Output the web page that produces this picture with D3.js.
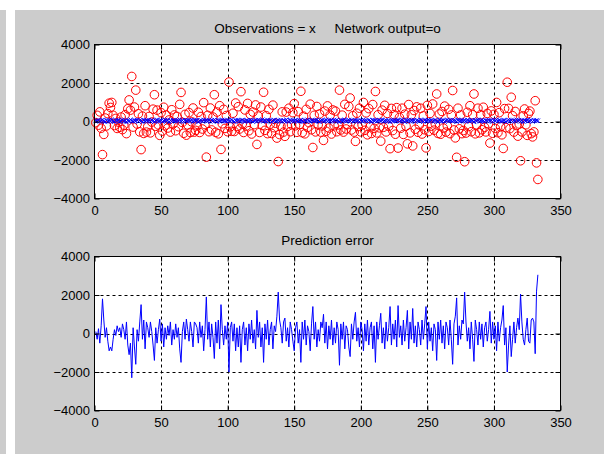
<!DOCTYPE html>
<html><head><meta charset="utf-8">
<script src="https://cdn.jsdelivr.net/npm/d3@7"></script>
<style>html,body{margin:0;padding:0;background:#fff;} svg{display:block;font-family:"Liberation Sans",Arial,sans-serif;}</style>
</head><body><svg id="c" width="604" height="454"></svg>
<script>
const xTicks=[0,50,100,150,200,250,300,350];
const yTicks=[-4000,-2000,0,2000,4000];
const gridX=[50,100,150,200,250,300];
const gridY=[-2000,0,2000];
const titles=["Observations = x     Network output=o","Prediction error"];

const observations=[
40,20,60,0,50,80,30,-20,70,10,
50,30,90,20,-10,60,40,70,0,30,
80,10,50,-30,60,20,90,40,10,50,
30,70,0,60,40,-20,80,20,50,30,
60,10,70,40,-10,50,90,20,30,60,
0,40,80,30,60,-20,50,10,70,40,
20,60,30,90,10,50,-10,70,40,20,
60,30,80,0,50,40,70,-20,30,60,
10,80,40,50,20,70,0,60,30,90,
40,-10,60,20,50,80,30,40,10,70,
50,20,90,30,-20,60,40,70,10,50,
80,30,0,60,40,20,70,50,-10,40,
60,10,80,30,50,90,20,40,0,70,
30,60,-20,50,80,10,40,70,20,60,
0,50,30,90,40,-10,70,20,60,30,
80,40,10,50,70,20,-20,60,30,90,
40,0,70,50,20,60,80,30,-10,50,
70,20,40,90,10,60,30,50,0,80,
40,70,20,-20,60,30,50,90,10,40,
80,20,60,0,50,70,30,40,-10,60,
20,90,40,50,10,70,30,-20,80,40,
60,10,50,70,30,90,0,40,60,20,
50,-10,80,30,60,40,20,70,10,50,
90,30,-20,60,40,80,10,50,30,70,
0,60,40,20,90,50,-10,70,30,40,
80,20,60,10,50,70,30,-20,90,40,
20,60,0,50,80,30,70,40,10,60,
50,-10,90,20,40,70,30,60,0,80,
40,20,70,50,-20,60,30,90,10,50,
70,40,0,60,20,80,30,50,-10,70,
40,90,20,60,30,10,50,70,-20,40,
80,30,60,0,50,20,90,40,70,10,
60,-10,50,30,80,20,40,70,0,60,
30,50,40];

const predictionError=[
100,-300,250,-500,400,1800,700,-200,300,-400,
-900,-700,-900,-300,200,-100,400,100,300,-200,
500,200,-300,600,-600,-1100,-500,-2300,300,-700,
-1600,200,-400,600,1500,-300,700,-800,600,300,
-200,600,100,-600,-1400,300,-500,200,750,-400,
500,-700,300,-300,400,-100,600,-600,200,-300,
500,-200,300,-800,-1500,100,600,-300,750,200,
-400,600,100,-700,600,500,300,-500,600,-200,
400,-900,200,1900,-300,600,-700,500,-200,-1300,
600,-500,700,-800,1500,200,-600,400,-300,600,
-2000,300,600,-400,500,-900,300,-700,400,-1500,
200,600,-600,300,-900,500,-300,700,-500,200,
-800,1200,-200,600,-700,300,-1500,500,-300,700,
-600,200,600,-800,400,100,900,2150,700,300,
-500,600,800,-400,300,-700,600,200,-400,-900,
300,600,-500,200,-1500,600,-300,700,-600,400,
100,-900,500,1400,-300,600,-700,200,-400,600,
300,1000,-500,600,-800,400,-300,700,-600,300,
-500,600,200,-1650,500,-300,600,-800,400,200,
-700,-1200,500,-300,600,1100,-400,300,-700,600,
200,-900,500,-400,700,-600,300,600,-800,400,
-1500,600,-300,400,1050,-500,300,-800,600,-400,
300,1400,-600,500,-300,700,-700,1450,-200,400,
-600,700,-400,300,1200,-800,600,-300,1300,-500,
400,-700,600,200,-600,700,-300,500,1400,-800,
600,-400,300,-900,500,200,-1400,600,-300,700,
-500,400,-800,600,300,-600,700,-300,-1600,500,
900,1850,-600,400,-300,700,500,2150,600,-400,
300,-800,600,-300,-1450,700,200,-600,600,-300,
500,-700,300,600,-400,200,1150,-500,600,-300,
400,-900,600,-400,300,700,1450,-600,300,-2000,
-600,400,-1200,-300,600,-500,300,800,200,2050,
600,-300,-600,200,800,-400,-500,700,800,600,
-1050,2200,3050];

// network output derived from the definition: error = observation - output
const networkOutput=observations.map((o,i)=>o-predictionError[i]);
const idx=observations.map((d,i)=>i+1);

const svg=d3.select("#c");
svg.append("rect").attr("x",15).attr("y",10).attr("width",589).attr("height",444).attr("fill","#cccccc");
svg.append("rect").attr("x",0).attr("y",10).attr("width",6).attr("height",444).attr("fill","#cccccc");

const x=d3.scaleLinear().domain([0,350]).range([94.5,560.5]);
const panels=[{top:44.5,bottom:198.5},{top:256.5,bottom:410.5}];

panels.forEach((p,k)=>{
  const y=d3.scaleLinear().domain([-4000,4000]).range([p.bottom,p.top]);
  p.y=y;
  const g=svg.append("g");
  g.append("rect").attr("x",x(0)).attr("y",p.top).attr("width",x(350)-x(0)).attr("height",p.bottom-p.top).attr("fill","#fff");
  g.selectAll(".gx").data(gridX).enter().append("line")
    .attr("x1",d=>Math.round(x(d))+0.5).attr("x2",d=>Math.round(x(d))+0.5)
    .attr("y1",p.top).attr("y2",p.bottom)
    .attr("stroke","#000").attr("stroke-dasharray","3,3").attr("stroke-width",1);
  g.selectAll(".gy").data(gridY).enter().append("line")
    .attr("y1",d=>Math.round(y(d))+0.5).attr("y2",d=>Math.round(y(d))+0.5)
    .attr("x1",x(0)).attr("x2",x(350))
    .attr("stroke","#000").attr("stroke-dasharray","3,3").attr("stroke-width",1);
  p.g=g;
});

const p0=panels[0];
p0.g.append("g").selectAll("circle").data(networkOutput).enter().append("circle")
  .attr("cx",(d,i)=>x(idx[i])).attr("cy",d=>p0.y(d)).attr("r",4.3)
  .attr("fill","none").attr("stroke","#ff0000").attr("stroke-width",1);
p0.g.append("g").selectAll("path").data(observations).enter().append("path")
  .attr("transform",(d,i)=>`translate(${x(idx[i])},${p0.y(d)})`)
  .attr("d","M-2.2,-2.2L2.2,2.2M-2.2,2.2L2.2,-2.2")
  .attr("stroke","#0000ff").attr("stroke-width",0.9).attr("fill","none");

const p1=panels[1];
p1.g.append("path").datum(predictionError)
  .attr("d",d3.line().x((d,i)=>x(idx[i])).y(d=>p1.y(d)))
  .attr("fill","none").attr("stroke","#0000ff").attr("stroke-width",1);

const fmt=d3.format("d");
panels.forEach((p,k)=>{
  const g=svg.append("g");
  const ax=g.append("g").attr("transform",`translate(0,${p.bottom})`)
    .call(d3.axisBottom(x).tickValues(xTicks).tickSize(-5).tickPadding(7).tickFormat(fmt));
  const at=g.append("g").attr("transform",`translate(0,${p.top})`)
    .call(d3.axisTop(x).tickValues(xTicks).tickSize(-5).tickFormat(""));
  const ay=g.append("g").attr("transform",`translate(${x(0)},0)`)
    .call(d3.axisLeft(p.y).tickValues(yTicks).tickSize(-5).tickPadding(4.5).tickFormat(fmt));
  const ar=g.append("g").attr("transform",`translate(${x(350)},0)`)
    .call(d3.axisRight(p.y).tickValues(yTicks).tickSize(-5).tickFormat(""));
  [ax,at,ay,ar].forEach(a=>{
    a.select(".domain").remove();
    a.selectAll("line").attr("stroke","#000");
    a.selectAll("text").attr("fill","#000").style("font-size","13px").style("font-family",'"Liberation Sans",Arial,sans-serif');
  });
  g.append("rect").attr("x",x(0)).attr("y",p.top).attr("width",x(350)-x(0)).attr("height",p.bottom-p.top)
    .attr("fill","none").attr("stroke","#000").attr("stroke-width",1);
  g.append("text").attr("x",(x(0)+x(350))/2).attr("y",k===0?32.5:244.5)
    .attr("text-anchor","middle").attr("fill","#000").style("font-size","13.5px")
    .style("white-space","pre").attr("xml:space","preserve").text(titles[k]);
});
</script></body></html>
